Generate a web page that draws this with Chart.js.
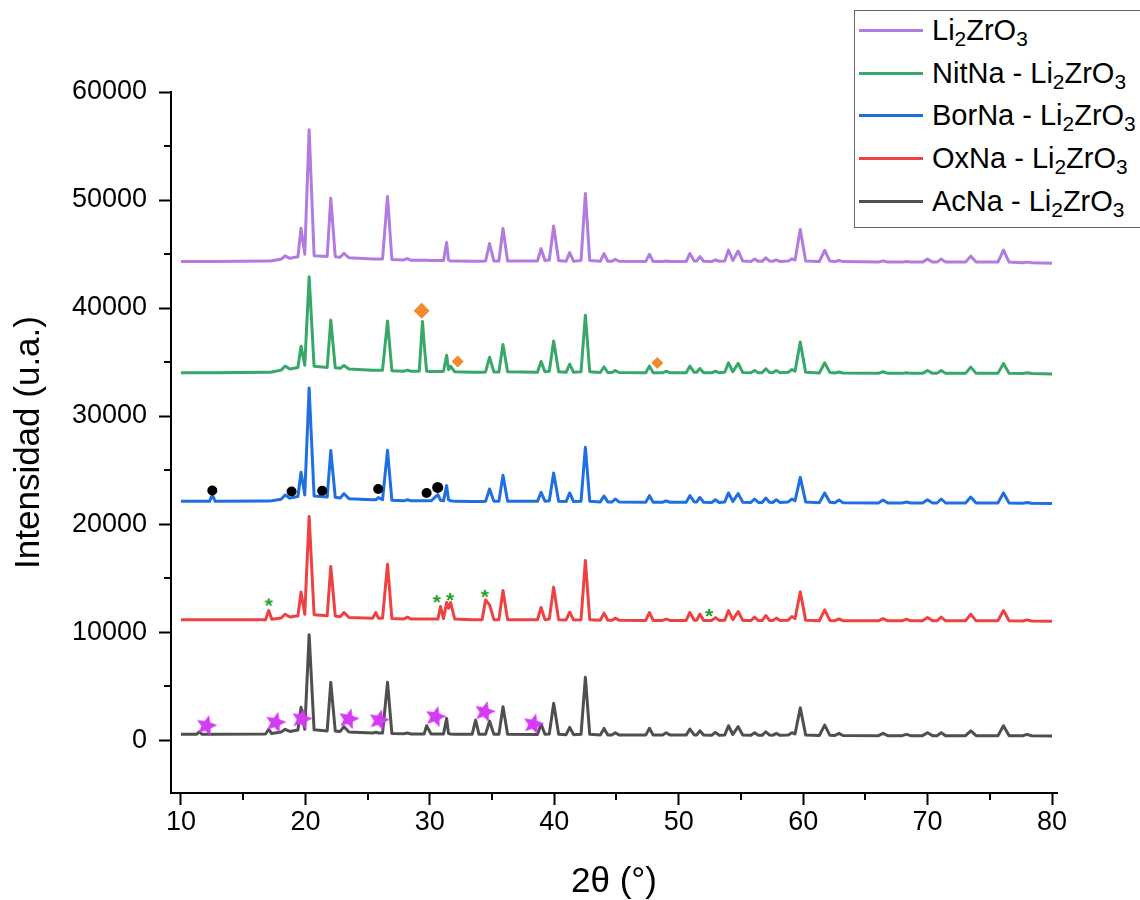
<!DOCTYPE html>
<html>
<head>
<meta charset="utf-8">
<script src="https://cdn.jsdelivr.net/npm/chart.js@4.4.1/dist/chart.umd.min.js"></script>
<style>
  html, body { margin: 0; padding: 0; background: #fff; overflow: hidden; }
  #wrap { position: relative; width: 1140px; height: 900px; }
  #legend {
    position: absolute; left: 854px; top: 10px; width: 300px; height: 218px;
    box-sizing: border-box; border: 1.5px solid #666; background: #fff;
    font-family: "Liberation Sans", Arial, sans-serif; font-size: 29px; color: #000;
  }
  .row { position: absolute; left: 0; height: 40px; display: flex; align-items: center; white-space: nowrap; }
  .swatch { width: 64px; height: 3px; margin-left: 4px; margin-right: 9px; }
  sub { font-size: 0.72em; vertical-align: -0.3em; line-height: 0; }
</style>
</head>
<body>
<div id="wrap">
  <canvas id="xrd" width="1140" height="900"></canvas>
  <div id="legend"></div>
</div>
<script>
// 2θ positions shared by all five patterns
const THETA = [
  10.0, 11.25, 11.47, 11.7, 12.3, 12.52, 12.75, 16.8, 17.05, 17.3,
  18.05, 18.37, 18.75, 19.4, 19.65, 19.95, 20.3, 20.7, 21.75, 22.04,
  22.4, 22.8, 23.1, 23.5, 25.4, 25.66, 25.87, 26.2, 26.6, 26.95,
  27.9, 28.2, 28.5, 29.15, 29.41, 29.55, 29.74, 30.1, 30.65, 30.86,
  31.1, 31.35, 31.5, 31.67, 32.0, 33.4, 33.68, 33.95, 34.2, 34.48,
  34.8, 35.15, 35.55, 35.88, 36.25, 38.65, 38.94, 39.25, 39.6, 39.95,
  40.35, 40.95, 41.24, 41.55, 42.15, 42.5, 42.85, 43.7, 44.0, 44.3,
  44.65, 44.9, 45.2, 47.35, 47.65, 47.95, 48.7, 49.0, 49.3, 50.6,
  50.9, 51.25, 51.45, 51.7, 52.0, 52.65, 52.95, 53.25, 53.7, 54.0,
  54.35, 54.78, 55.15, 55.8, 56.1, 56.4, 56.7, 57.0, 57.3, 57.55,
  57.84, 58.15, 58.8, 59.1, 59.35, 59.77, 60.2, 61.3, 61.73, 62.15,
  62.55, 62.88, 63.2, 66.05, 66.42, 66.8, 67.95, 68.3, 68.65, 69.6,
  69.99, 70.4, 70.75, 71.1, 71.45, 73.05, 73.47, 73.9, 75.65, 76.1,
  76.55, 77.65, 78.0, 78.35, 80.0
];

// intensities (already stacked with their display offsets)
const LI2ZRO3 = [
  44300, 44300, 44300, 44300, 44300, 44300, 44300, 44350, 44350, 44380,
  44520, 44820, 44600, 44750, 47390, 44980, 56500, 44850, 44770, 50170,
  44750, 44700, 45070, 44650, 44550, 44550, 44550, 44550, 50330, 44500,
  44450, 44580, 44420, 44420, 44420, 44420, 44420, 44400, 44400, 44400,
  44400, 46060, 44450, 44350, 44350, 44330, 44330, 44330, 44330, 44350,
  45970, 44350, 44350, 47360, 44350, 44350, 45500, 44400, 44450, 47600,
  44400, 44330, 45130, 44330, 44400, 50600, 44400, 44330, 45040, 44330,
  44330, 44510, 44330, 44300, 44980, 44300, 44300, 44350, 44300, 44300,
  45050, 44350, 44350, 44770, 44330, 44300, 44450, 44330, 44350, 45370,
  44400, 45280, 44350, 44300, 44530, 44320, 44320, 44650, 44350, 44330,
  44450, 44300, 44350, 44550, 44450, 47270, 44350, 44300, 45350, 44350,
  44300, 44400, 44300, 44250, 44370, 44250, 44250, 44300, 44250, 44250,
  44530, 44250, 44250, 44530, 44250, 44250, 44800, 44250, 44250, 45370,
  44250, 44200, 44250, 44200, 44150
];
const NITNA = [
  34000, 34000, 34000, 34000, 34000, 34000, 34000, 34050, 34050, 34080,
  34250, 34620, 34350, 34500, 36470, 34700, 42900, 34600, 34500, 38880,
  34480, 34420, 34680, 34350, 34250, 34250, 34250, 34250, 38790, 34200,
  34150, 34250, 34150, 34150, 38760, 36600, 34150, 34120, 34120, 34120,
  34150, 35620, 34300, 34600, 34100, 34050, 34050, 34050, 34050, 34080,
  35450, 34080, 34080, 36630, 34100, 34050, 35060, 34100, 34150, 36940,
  34100, 34050, 34800, 34050, 34100, 39340, 34100, 34030, 34560, 34030,
  34030, 34220, 34030, 34000, 34620, 34000, 34000, 34150, 34000, 34000,
  34620, 34050, 34050, 34400, 34000, 34000, 34150, 34000, 34050, 34930,
  34100, 34870, 34030, 34000, 34220, 34000, 34000, 34380, 34030, 34000,
  34220, 34000, 34050, 34310, 34150, 36850, 34050, 33980, 34930, 34030,
  33980, 34070, 33980, 33950, 34100, 33950, 33950, 34000, 33950, 33950,
  34220, 33950, 33950, 34220, 33950, 33950, 34530, 33950, 33950, 34870,
  33950, 33930, 34000, 33930, 33900
];
const BORNA = [
  22100, 22100, 22100, 22100, 22100, 22720, 22100, 22130, 22130, 22160,
  22300, 22690, 22400, 22550, 24800, 22700, 32600, 22600, 22500, 26800,
  22480, 22420, 22810, 22350, 22250, 22250, 22450, 22250, 26830, 22200,
  22150, 22250, 22150, 22150, 22150, 22150, 22150, 22150, 22720, 22200,
  22150, 23560, 22250, 22150, 22100, 22080, 22080, 22080, 22080, 22100,
  23250, 22100, 22100, 24510, 22120, 22100, 22940, 22120, 22150, 24730,
  22120, 22080, 22880, 22080, 22120, 27120, 22120, 22050, 22600, 22050,
  22050, 22320, 22050, 22020, 22630, 22020, 22020, 22150, 22020, 22020,
  22630, 22050, 22050, 22470, 22020, 22000, 22250, 22000, 22050, 22880,
  22100, 22820, 22020, 22000, 22320, 22000, 22000, 22410, 22020, 22000,
  22250, 22000, 22050, 22320, 22150, 24320, 22050, 21980, 22880, 22020,
  21980, 22220, 21980, 21950, 22220, 21950, 21950, 22040, 21950, 21950,
  22250, 21950, 21950, 22320, 21950, 21950, 22500, 21950, 21950, 22880,
  21950, 21930, 22000, 21930, 21900
];
const OXNA = [
  11130, 11130, 11130, 11130, 11130, 11130, 11130, 11150, 11990, 11180,
  11300, 11650, 11400, 11500, 13700, 11650, 20710, 11600, 11500, 16080,
  11480, 11420, 11810, 11350, 11280, 11810, 11280, 11280, 16280, 11250,
  11200, 11380, 11200, 11200, 11200, 11200, 11200, 11200, 11200, 12360,
  11250, 12730, 12200, 12730, 11200, 11150, 11150, 11150, 11150, 12980,
  12520, 11150, 11150, 13850, 11150, 11130, 12270, 11150, 11200, 14160,
  11150, 11120, 11840, 11120, 11150, 16630, 11150, 11100, 11750, 11100,
  11100, 11290, 11100, 11080, 11810, 11080, 11080, 11200, 11080, 11080,
  11810, 11100, 11100, 11660, 11080, 11080, 11340, 11080, 11100, 11990,
  11150, 11900, 11080, 11060, 11380, 11060, 11060, 11530, 11080, 11060,
  11290, 11060, 11100, 11440, 11250, 13740, 11100, 11050, 12050, 11080,
  11050, 11220, 11050, 11040, 11250, 11040, 11040, 11190, 11040, 11040,
  11340, 11040, 11040, 11380, 11040, 11040, 11660, 11040, 11040, 12000,
  11040, 11020, 11130, 11020, 11000
];
const ACNA = [
  530, 530, 770, 530, 530, 530, 530, 560, 1000, 600,
  750, 1000, 800, 930, 3030, 1000, 9740, 950, 850, 5350,
  850, 800, 1240, 750, 650, 720, 650, 650, 5350, 620,
  580, 650, 570, 570, 570, 570, 1330, 570, 570, 570,
  570, 2010, 600, 560, 540, 530, 1850, 530, 530, 550,
  1760, 530, 530, 3090, 540, 520, 1480, 540, 560, 3400,
  540, 500, 1180, 500, 530, 5810, 530, 480, 1080, 480,
  480, 680, 480, 460, 1090, 460, 460, 680, 460, 460,
  1020, 480, 480, 860, 460, 450, 710, 450, 480, 1330,
  520, 1240, 460, 440, 680, 440, 440, 770, 460, 440,
  620, 440, 470, 680, 560, 3000, 470, 420, 1390, 440,
  420, 620, 420, 410, 620, 410, 410, 530, 410, 410,
  680, 410, 410, 680, 410, 410, 860, 410, 410, 1330,
  410, 400, 530, 400, 380
];

const SERIES_LABELS = [
  "Li<sub>2</sub>ZrO<sub>3</sub>",
  "NitNa - Li<sub>2</sub>ZrO<sub>3</sub>",
  "BorNa - Li<sub>2</sub>ZrO<sub>3</sub>",
  "OxNa - Li<sub>2</sub>ZrO<sub>3</sub>",
  "AcNa - Li<sub>2</sub>ZrO<sub>3</sub>",
];
const SERIES_DATA = [LI2ZRO3, NITNA, BORNA, OXNA, ACNA];
const SERIES_COLORS = ["#b27be0", "#37a868", "#1f6fe2", "#ee4242", "#4f4f4f"];

// phase markers
const DIAMOND_THETA = [29.34, 32.24, 48.28];
const DIAMOND_Y = [39750, 35050, 34900];
const DOT_THETA = [12.52, 18.89, 21.35, 25.85, 29.74, 30.63];
const DOT_Y = [23110, 23020, 23080, 23240, 22870, 23390];
const ASTERISK_THETA = [17.05, 30.55, 31.62, 34.41, 52.43];
const ASTERISK_Y = [12740, 13050, 13240, 13550, 11760];
const STAR_THETA = [12.07, 17.62, 19.73, 23.5, 25.94, 30.47, 34.43, 38.34];
const STAR_Y = [1420, 1720, 2040, 2040, 1940, 2250, 2710, 1570];

const X_TICKS = [10, 20, 30, 40, 50, 60, 70, 80];
const X_TICKS_MINOR = [15, 25, 35, 45, 55, 65, 75];
const Y_TICKS = [0, 10000, 20000, 30000, 40000, 50000, 60000];
const Y_TICKS_MINOR = [5000, 15000, 25000, 35000, 45000, 55000];

const FONT = "'Liberation Sans', Arial, sans-serif";

function points(xs, ys) {
  return xs.map((x, i) => ({ x, y: ys[i] }));
}

function starImage(r, color) {
  const size = Math.ceil(r * 2 + 2);
  const c = document.createElement("canvas");
  c.width = c.height = size;
  const g = c.getContext("2d");
  g.translate(size / 2, size / 2 + r * 0.1);
  g.fillStyle = color;
  g.beginPath();
  for (let i = 0; i < 10; i++) {
    const rad = i % 2 ? r * 0.45 : r;
    const a = -Math.PI / 2 + (i * Math.PI) / 5;
    g.lineTo(rad * Math.cos(a), rad * Math.sin(a));
  }
  g.closePath();
  g.fill();
  return c;
}

function glyphImage(ch, font, color, size) {
  const c = document.createElement("canvas");
  c.width = c.height = size;
  const g = c.getContext("2d");
  g.font = font;
  g.fillStyle = color;
  g.textAlign = "center";
  g.textBaseline = "alphabetic";
  const m = g.measureText(ch);
  g.fillText(ch, size / 2, size / 2 + (m.actualBoundingBoxAscent - m.actualBoundingBoxDescent) / 2);
  return c;
}

const starPic = starImage(11, "#d43cf3");
const asteriskPic = glyphImage("*", "bold 21px " + FONT, "#1f9e1f", 16);

// short minor tick marks, outside the frame
const minorTicks = {
  id: "minorTicks",
  afterDraw(chart) {
    const { ctx, chartArea, scales } = chart;
    ctx.save();
    ctx.strokeStyle = "#000";
    ctx.lineWidth = 2;
    ctx.beginPath();
    X_TICKS_MINOR.forEach((v) => {
      const px = Math.round(scales.x.getPixelForValue(v));
      ctx.moveTo(px, chartArea.bottom);
      ctx.lineTo(px, chartArea.bottom + 7);
    });
    Y_TICKS_MINOR.forEach((v) => {
      const py = Math.round(scales.y.getPixelForValue(v));
      ctx.moveTo(chartArea.left, py);
      ctx.lineTo(chartArea.left - 7, py);
    });
    ctx.stroke();
    ctx.restore();
  },
};

const markerSets = [
  {
    data: points(DIAMOND_THETA, DIAMOND_Y),
    pointStyle: "rectRot",
    pointRadius: [8, 6, 6],
    backgroundColor: "#f28a2c",
    borderWidth: 0,
    order: 0,
  },
  {
    data: points(DOT_THETA, DOT_Y),
    pointStyle: "circle",
    pointRadius: [5, 5, 5, 5, 5, 5.5],
    backgroundColor: "#000",
    borderWidth: 0,
    order: 0,
  },
  {
    data: points(ASTERISK_THETA, ASTERISK_Y),
    pointStyle: asteriskPic,
    pointRadius: 5,
    order: 0,
  },
  {
    data: points(STAR_THETA, STAR_Y),
    pointStyle: starPic,
    pointRadius: 5,
    rotation: 14,
    order: 0,
  },
];

const patternSets = SERIES_DATA.map((ys, i) => ({
  data: points(THETA, ys),
  showLine: true,
  borderColor: SERIES_COLORS[i],
  borderWidth: 3,
  borderJoinStyle: "round",
  pointRadius: 0,
  tension: 0,
  order: 1,
}));

const axisGrid = { drawOnChartArea: false, drawTicks: true, tickLength: 12, tickWidth: 2, tickColor: "#000" };
const axisBorder = { display: true, color: "#000", width: 2 };

new Chart(document.getElementById("xrd"), {
  type: "scatter",
  data: { datasets: [...markerSets, ...patternSets] },
  options: {
    responsive: false,
    animation: false,
    events: [],
    layout: { padding: { top: 92, right: 83, left: 0, bottom: 0 } },
    plugins: { legend: { display: false }, tooltip: { enabled: false } },
    scales: {
      x: {
        type: "linear",
        min: 9.2,
        max: 80.4,
        afterBuildTicks: (s) => { s.ticks = X_TICKS.map((value) => ({ value })); },
        ticks: {
          color: "#000",
          padding: 1,
          maxRotation: 0,
          autoSkip: false,
          font: { family: FONT, size: 27 },
          callback: (v) => String(v),
        },
        grid: axisGrid,
        border: axisBorder,
        title: {
          display: true,
          text: "2θ (°)",
          color: "#000",
          font: { family: FONT, size: 35, lineHeight: 1 },
          padding: { top: 0, bottom: 0 },
        },
        afterFit: (s) => { s.height = 107; },
      },
      y: {
        min: -4900,
        max: 60000,
        afterBuildTicks: (s) => { s.ticks = Y_TICKS.map((value) => ({ value })); },
        ticks: {
          color: "#000",
          padding: 12,
          autoSkip: false,
          font: { family: FONT, size: 27 },
          callback: (v) => String(v),
        },
        grid: axisGrid,
        border: axisBorder,
        title: {
          display: true,
          text: "Intensidad (u.a.)",
          color: "#000",
          font: { family: FONT, size: 35, lineHeight: 1 },
          padding: { top: 12, bottom: 0 },
        },
        afterFit: (s) => { s.width = 171; },
      },
    },
  },
  plugins: [minorTicks],
});

// legend with subscripts
const legend = document.getElementById("legend");
SERIES_LABELS.forEach((label, i) => {
  const row = document.createElement("div");
  row.className = "row";
  row.style.top = (31 + i * 42.7 - 10 - 1.5 - 20) + "px";
  row.innerHTML = `<span class="swatch" style="background:${SERIES_COLORS[i]}"></span><span>${label}</span>`;
  legend.appendChild(row);
});
</script>
</body>
</html>
